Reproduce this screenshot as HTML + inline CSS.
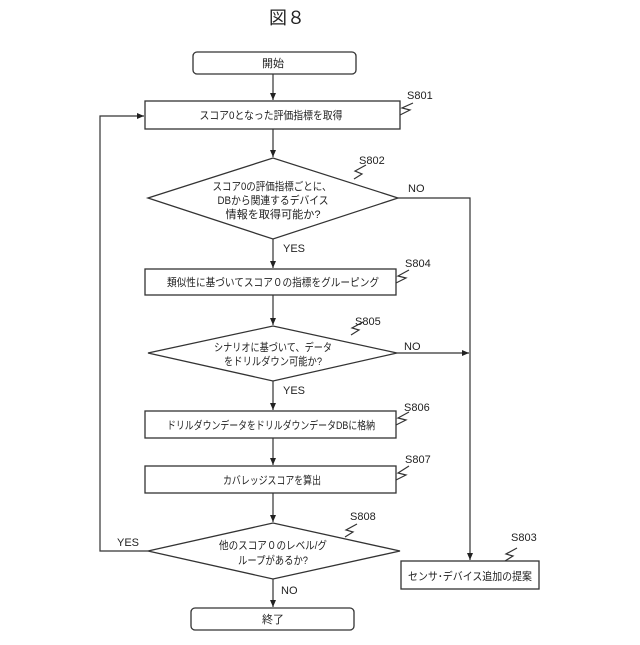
<!DOCTYPE html>
<html><head><meta charset="utf-8"><style>
body{margin:0;background:#fff;}
svg text{font-family:"Liberation Sans","Noto Sans CJK JP",sans-serif;fill:#222;}
</style></head><body>
<svg width="640" height="640" viewBox="0 0 640 640" xmlns="http://www.w3.org/2000/svg">
<defs><marker id="a" markerWidth="8" markerHeight="8" refX="7" refY="4" orient="auto" markerUnits="userSpaceOnUse"><path d="M0,1 L7,4 L0,7 z" fill="#222"/></marker></defs>
<g stroke="#333" stroke-width="1.3" fill="#fff">
<rect x="193" y="52" width="163" height="22" rx="4"/>
<rect x="145" y="101" width="255" height="28"/>
<polygon points="148,198 273,158 398,198 273,239"/>
<rect x="145" y="269" width="251" height="26"/>
<polygon points="148,353 273,326 397,353 273,381"/>
<rect x="145" y="411" width="251" height="27"/>
<rect x="145" y="466" width="251" height="27"/>
<polygon points="148,551 273,523 400,551 273,579"/>
<rect x="191" y="608" width="163" height="22" rx="4"/>
<rect x="401" y="561" width="138" height="28"/>
</g>
<g stroke="#333" stroke-width="1.2" fill="none">
<line x1="273" y1="74" x2="273" y2="100" marker-end="url(#a)"/>
<line x1="273" y1="129" x2="273" y2="157" marker-end="url(#a)"/>
<line x1="273" y1="239" x2="273" y2="268" marker-end="url(#a)"/>
<line x1="273" y1="295" x2="273" y2="325" marker-end="url(#a)"/>
<line x1="273" y1="381" x2="273" y2="410" marker-end="url(#a)"/>
<line x1="273" y1="438" x2="273" y2="465" marker-end="url(#a)"/>
<line x1="273" y1="493" x2="273" y2="522" marker-end="url(#a)"/>
<line x1="273" y1="579" x2="273" y2="607" marker-end="url(#a)"/>
<polyline points="398,198 470,198 470,560" marker-end="url(#a)"/>
<line x1="397" y1="353" x2="469" y2="353" marker-end="url(#a)"/>
<polyline points="148,551 100,551 100,116 144,116" marker-end="url(#a)"/>
<polyline points="400,115 410,110 402,108 413,103"/>
<polyline points="354,179 362,174 355,171 366,165"/>
<polyline points="396,283 406,278 398,276 409,270"/>
<polyline points="351,335 359,330 352,328 363,322"/>
<polyline points="396,425 406,420 398,418 409,412"/>
<polyline points="396,480 406,475 398,473 409,466"/>
<polyline points="345,537 353,532 346,530 357,524"/>
<polyline points="505,561 513,556 506,554 517,548"/>
</g>
<g font-size="11" text-anchor="middle">
<text x="287" y="24" font-size="18">図８</text>
<text x="273" y="67">開始</text>
<text x="271" y="119" textLength="143" lengthAdjust="spacingAndGlyphs">スコア0となった評価指標を取得</text>
<text x="272" y="190" textLength="119" lengthAdjust="spacingAndGlyphs">スコア0の評価指標ごとに、</text>
<text x="273" y="204" textLength="111" lengthAdjust="spacingAndGlyphs">DBから関連するデバイス</text>
<text x="273" y="218" textLength="95" lengthAdjust="spacingAndGlyphs">情報を取得可能か?</text>
<text x="273" y="286" textLength="212" lengthAdjust="spacingAndGlyphs">類似性に基づいてスコア０の指標をグルーピング</text>
<text x="273" y="351" textLength="118" lengthAdjust="spacingAndGlyphs">シナリオに基づいて、データ</text>
<text x="273" y="365" textLength="98" lengthAdjust="spacingAndGlyphs">をドリルダウン可能か?</text>
<text x="271" y="429" textLength="208" lengthAdjust="spacingAndGlyphs">ドリルダウンデータをドリルダウンデータDBに格納</text>
<text x="272" y="484" textLength="98" lengthAdjust="spacingAndGlyphs">カバレッジスコアを算出</text>
<text x="273" y="549" textLength="108" lengthAdjust="spacingAndGlyphs">他のスコア０のレベル/グ</text>
<text x="273" y="564" textLength="70" lengthAdjust="spacingAndGlyphs">ループがあるか?</text>
<text x="273" y="623">終了</text>
<text x="470" y="580" textLength="124" lengthAdjust="spacingAndGlyphs">センサ･デバイス追加の提案</text>
</g>
<g font-size="11">
<text x="407" y="99">S801</text>
<text x="359" y="164">S802</text>
<text x="405" y="267">S804</text>
<text x="355" y="325">S805</text>
<text x="404" y="411">S806</text>
<text x="405" y="463">S807</text>
<text x="350" y="520">S808</text>
<text x="511" y="541">S803</text>
<text x="408" y="192">NO</text>
<text x="404" y="350">NO</text>
<text x="283" y="252">YES</text>
<text x="283" y="394">YES</text>
<text x="117" y="546">YES</text>
<text x="281" y="594">NO</text>
</g>
</svg>
</body></html>
